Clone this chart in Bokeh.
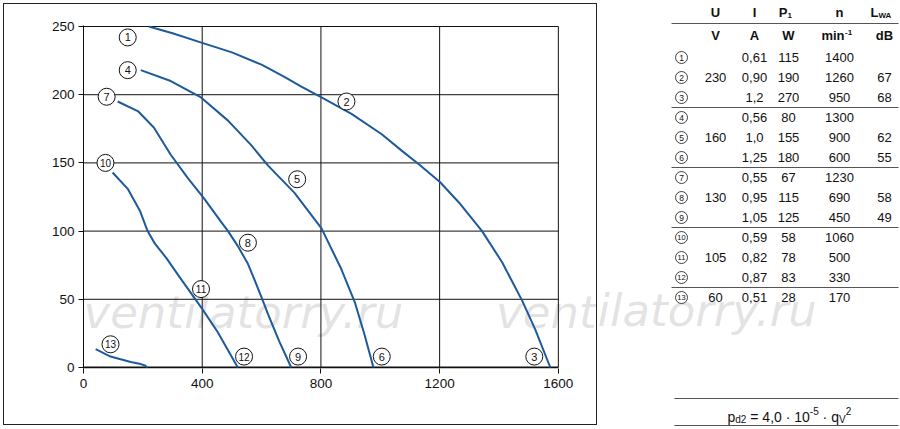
import numpy as np
from bokeh.plotting import figure
from bokeh.models import Range1d, Label, FixedTicker, ColumnDataSource
from bokeh.layouts import row
from bokeh.embed import file_html
from bokeh.resources import INLINE
from bokeh.core.properties import value

FONT = "Liberation Sans"
BLUE = "#1d5a9b"

# ---------------- data ----------------
x_ticks = [0, 400, 800, 1200, 1600]
y_ticks = [0, 50, 100, 150, 200, 250]

# curve 1-2-3 (230 V)
c1_q = [220, 300, 400, 500, 600, 677, 734, 802, 903, 1005, 1072, 1130, 1201, 1265, 1343, 1411, 1478, 1522, 1573]
c1_p = [250, 245, 238, 231, 222, 213, 206, 198, 186, 171, 159, 149, 136, 121, 100, 77, 49, 28, 0]
# curve 4-5-6 (160 V)
c2_q = [193, 294, 396, 487, 565, 622, 711, 802, 869, 914, 947, 977]
c2_p = [218, 210, 198, 181, 163, 148, 128, 102, 72, 48, 24, 0]
# curve 7-8-9 (130 V)
c3_q = [115, 183, 237, 294, 351, 406, 463, 487, 520, 554, 575, 599, 622, 660, 700]
c3_p = [195, 188, 176, 156, 139, 124, 107, 100, 89, 76, 65, 52, 39, 19, 0]
# curve 10-11-12 (105 V)
c4_q = [98, 149, 190, 216, 240, 280, 328, 400, 452, 520]
c4_p = [143, 131, 115, 100, 91, 80, 65, 43, 26, 0]
# curve 13 (60 V)
c5_q = [41, 91, 159, 193, 207, 216]
c5_p = [13.5, 8, 4, 2.5, 1.5, 0]

curves = [(c1_q, c1_p), (c2_q, c2_p), (c3_q, c3_p), (c4_q, c4_p), (c5_q, c5_p)]

lab_txt = ["1", "2", "3", "4", "5", "6", "7", "8", "9", "10", "11", "12", "13"]
lab_q = [149, 886, 1519, 149, 720, 1005, 78, 554, 723, 74, 396, 541, 91]
lab_p = [242, 195, 8, 218, 138, 8, 198.5, 91.5, 8, 150, 57.5, 8, 17]

# table
tab_ids = ["1", "2", "3", "4", "5", "6", "7", "8", "9", "10", "11", "12", "13"]
U_vals = ["", "230", "", "", "160", "", "", "130", "", "", "105", "", "60"]
I_vals = ["0,61", "0,90", "1,2", "0,56", "1,0", "1,25", "0,55", "0,95", "1,05", "0,59", "0,82", "0,87", "0,51"]
P1_vals = ["115", "190", "270", "80", "155", "180", "67", "115", "125", "58", "78", "83", "28"]
n_vals = ["1400", "1260", "950", "1300", "900", "600", "1230", "690", "450", "1060", "500", "330", "170"]
L_vals = ["", "67", "68", "", "62", "55", "", "58", "49", "", "", "", ""]
group_ends = [3, 6, 9, 12]

# ---------------- geometry (page pixels) ----------------
OX, OY = 3, 3              # outer box top-left
W1, H1 = 594, 422          # outer box size
X0P, X1P = 83, 556         # page x of q=0 and q=1600
Y0P, Y1P = 365, 26         # page y of p=0 and p=250
CX, CY = OX + 1, OY + 1    # canvas origin (inside 1px border)
CW, CH = W1 - 2, H1 - 2
PX_PER_Q = (X1P - X0P) / 1600
PX_PER_P = (Y0P - Y1P) / 250

FR_L, FR_R = X0P, CX + CW          # frame spans to canvas right edge
FR_T, FR_B = Y1P - 1, Y0P + 1      # one extra pixel above / below
BL = FR_L - CX
BR = 0
BT = FR_T - CY
BB = CY + CH - FR_B
XR = Range1d(0, (FR_R - X0P) / PX_PER_Q)
YR = Range1d(-(FR_B - Y0P) / PX_PER_P, 250 + (Y1P - FR_T) / PX_PER_P)


def dx(px):
    return (px - X0P) / PX_PER_Q


def dy(py):
    return (Y0P - py) / PX_PER_P


p = figure(width=W1, height=H1, x_range=XR, y_range=YR,
           output_backend="svg", toolbar_location=None,
           min_border_left=BL, min_border_right=BR, min_border_top=BT, min_border_bottom=BB)
p.margin = (OY, 0, 429 - OY - H1, OX)
p.frame_align = False
p.styles = {"border": "1px solid #222", "box-sizing": "border-box"}
p.background_fill_color = "white"
p.border_fill_color = "white"
p.outline_line_color = None
p.xgrid.visible = False
p.ygrid.visible = False

for ax, tk in ((p.xaxis, x_ticks), (p.yaxis, y_ticks)):
    ax.ticker = FixedTicker(ticks=tk)
    ax.major_label_text_font = FONT
    ax.major_label_text_font_size = "13.5px"
    ax.major_label_text_color = "#111"
    ax.major_tick_out = 5
    ax.major_tick_in = 0
    ax.minor_tick_line_color = None
    ax.axis_line_color = "#111"
    ax.major_tick_line_color = "#111"
p.xaxis.axis_line_color = None
p.xaxis.major_label_standoff = 5
p.yaxis.major_label_standoff = 4

# ---- watermark (under everything) ----
WM_FONT = "DejaVu Sans"
WM_COLOR = "#a8a8a8"
WM_ALPHA = 0.33
WM_PX = 45
WM_SIZE = f"{WM_PX}px"
WM_BASE = 310


def wm_label(px0, txt):
    p.add_layout(Label(x=dx(px0), y=dy(WM_BASE), text=txt, text_font=WM_FONT,
                       text_font_style="italic", text_font_size=WM_SIZE, text_color=WM_COLOR,
                       text_alpha=WM_ALPHA, text_baseline="alphabetic", text_align="left",
                       level="image"))


wm_label(83, "ventilatorry.ru")
wm_label(494, "vent")

# grid / frame box drawn from the tick lists
p.segment(x0=x_ticks, y0=[0] * len(x_ticks), x1=x_ticks, y1=[250] * len(x_ticks),
          line_color="#111", line_width=1)
p.segment(x0=[0] * len(y_ticks[1:]), y0=y_ticks[1:], x1=[1600] * len(y_ticks[1:]), y1=y_ticks[1:],
          line_color="#111", line_width=1)
p.segment(x0=[0], y0=[0], x1=[1600], y1=[0], line_color="#111", line_width=2.2)

for q, pr in curves:
    p.line(q, pr, line_color=BLUE, line_width=2, line_join="round")

lab_fs = ["11px" if len(t) == 1 else "10px" for t in lab_txt]
lsrc = ColumnDataSource(dict(q=lab_q, p=lab_p, t=lab_txt, fs=lab_fs))
p.scatter("q", "p", source=lsrc, marker="circle", size=17, fill_color="white",
          line_color="#111", line_width=1)
p.text("q", "p", text="t", source=lsrc, text_align="center", text_baseline="middle",
       text_font=value(FONT), text_font_size="fs", text_color="#111")


def lab(fig, px, py, text, size, align="left", baseline="alphabetic", angle=0, style="normal"):
    fig.add_layout(Label(x=dx(px), y=dy(py), text=text, text_font=FONT, text_font_size=size,
                         text_align=align, text_baseline=baseline, angle=angle,
                         text_color="#111", text_font_style=style))


# axis labels
lab(p, 293, 409, "q", "13.5px")
lab(p, 300.5, 412, "V", "9px")
lab(p, 308, 409, "[m³/h]", "13.5px")
ang = np.pi / 2
lab(p, 35.5, 218.5, "p", "13.5px", angle=ang)
lab(p, 38, 210.8, "sF", "9px", angle=ang)
lab(p, 35.5, 197, "[Pa]", "13.5px", angle=ang)

lab(p, 12, 413, "RD20S4E1", "10px", baseline="middle")
lab(p, 585, 413, "RD20S4EW4C1LV008", "10px", align="right", baseline="middle")

# ---------------- table figure ----------------
TX0 = OX + W1
TX1 = 900
t = figure(width=TX1 - TX0, height=429, x_range=Range1d(TX0, TX1), y_range=Range1d(429, 0),
           output_backend="svg", toolbar_location=None, x_axis_type=None, y_axis_type=None,
           min_border=0, min_border_left=0, min_border_right=0, min_border_top=0, min_border_bottom=0)
t.frame_align = False
t.grid.visible = False
t.outline_line_color = None
t.background_fill_color = "white"
t.border_fill_color = "white"

col_x = [715, 754, 788, 839, 884]
CIRC_X = 681
ROW0, ROWH = 57, 20
HDR1_Y, HDR2_Y, HLINE_Y = 12, 35, 23
LINE_X0, LINE_X1 = 671, 898

row_y = [ROW0 + ROWH * i for i in range(len(tab_ids))]

# watermark continuation
t.text([TX0], [WM_BASE], text=["ilatorry.ru"], text_font=value(WM_FONT), text_font_style="italic",
       text_font_size=WM_SIZE, text_color=WM_COLOR, text_alpha=WM_ALPHA,
       text_baseline="alphabetic", text_align="left")

# headers
tf = value(FONT)
t.text([col_x[0], col_x[1], col_x[3]], [HDR1_Y] * 3, text=["U", "I", "n"], text_font=tf,
       text_font_style="bold", text_font_size="13px", text_align="center", text_baseline="middle",
       text_color="#111")
t.text([col_x[2] - 1], [HDR1_Y], text=["P"], text_font=tf, text_font_style="bold",
       text_font_size="13px", text_align="right", text_baseline="middle", text_color="#111")
t.text([col_x[2] - 1], [HDR1_Y + 3], text=["1"], text_font=tf, text_font_style="bold",
       text_font_size="8px", text_align="left", text_baseline="middle", text_color="#111")
t.text([col_x[4] - 6], [HDR1_Y], text=["L"], text_font=tf, text_font_style="bold",
       text_font_size="13px", text_align="right", text_baseline="middle", text_color="#111")
t.text([col_x[4] - 6], [HDR1_Y + 3], text=["WA"], text_font=tf, text_font_style="bold",
       text_font_size="8px", text_align="left", text_baseline="middle", text_color="#111")
t.segment([LINE_X0], [HLINE_Y], [LINE_X1], [HLINE_Y], line_color="#555", line_width=1)

t.text([col_x[0], col_x[1], col_x[2], col_x[4]], [HDR2_Y] * 4, text=["V", "A", "W", "dB"],
       text_font=tf, text_font_style="bold", text_font_size="13px", text_align="center",
       text_baseline="middle", text_color="#111")
t.text([col_x[3] + 5], [HDR2_Y], text=["min"], text_font=tf, text_font_style="bold",
       text_font_size="13px", text_align="right", text_baseline="middle", text_color="#111")
t.text([col_x[3] + 5.5], [HDR2_Y - 3], text=["-1"], text_font=tf, text_font_style="bold",
       text_font_size="8px", text_align="left", text_baseline="middle", text_color="#111")

# circled ids
tsrc = ColumnDataSource(dict(x=[CIRC_X] * len(tab_ids), y=row_y, t=tab_ids,
                             fs=["8.5px" if len(s) == 1 else "7.5px" for s in tab_ids]))
t.scatter("x", "y", source=tsrc, marker="circle", size=12, fill_color="white",
          line_color="#111", line_width=0.8)
t.text("x", "y", text="t", source=tsrc, text_font=tf, text_font_size="fs", text_align="center",
       text_baseline="middle", text_color="#111")

for cx, vals in zip(col_x, [U_vals, I_vals, P1_vals, n_vals, L_vals]):
    t.text([cx] * len(vals), row_y, text=vals, text_font=tf, text_font_size="13px",
           text_align="center", text_baseline="middle", text_color="#111")

for ge in group_ends:
    yl = ROW0 + ROWH * (ge - 0.5)
    t.segment([LINE_X0], [yl], [LINE_X1], [yl], line_color="#555", line_width=1)

# formula  p_d2 = 4,0 · 10^-5 · q_V^2  (pieces laid out left to right)
F_LINE1, F_Y, F_LINE2 = 398, 416, 425
t.segment([674, 674], [F_LINE1, F_LINE2], [LINE_X1, LINE_X1], [F_LINE1, F_LINE2],
          line_color="#555", line_width=1)
AW = {"p": .556, "q": .556, "d": .556, "2": .556, "4": .556, "0": .556, "1": .556, "5": .556,
      ",": .278, " ": .278, "=": .584, "·": .333, "-": .333, "V": .667}
pieces = [("p", 14, 0), ("d2", 10, 2.8), (" = 4,0 · 10", 14, 0), ("-5", 10, -5.5),
          (" · q", 14, 0), ("V", 10, 2.8), ("2", 10, -5.5)]
fx = 727.0
for txt, fs, dyy in pieces:
    s = txt.lstrip(" ")
    fx += (len(txt) - len(s)) * AW[" "] * fs
    t.text([fx], [F_Y + dyy], text=[s], text_font=tf, text_font_size=f"{fs}px",
           text_align="left", text_baseline="alphabetic", text_color="#111")
    fx += sum(AW.get(ch, .556) for ch in s) * fs

layout = row(p, t)
open("out.html", "w").write(file_html(layout, INLINE))
